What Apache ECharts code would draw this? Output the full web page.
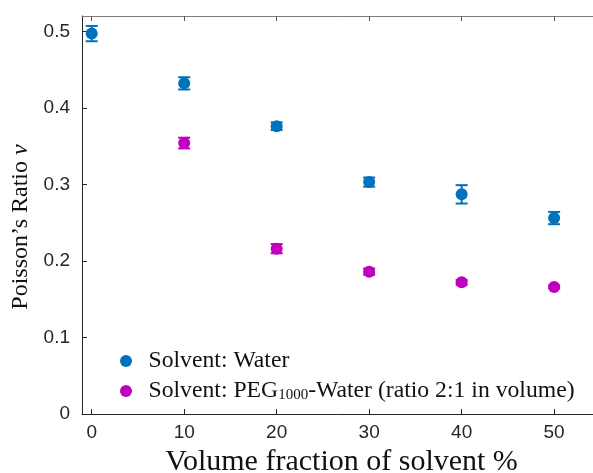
<!DOCTYPE html>
<html>
<head>
<meta charset="utf-8">
<script src="https://cdn.jsdelivr.net/npm/echarts@6/dist/echarts.min.js"></script>
<style>html,body{margin:0;padding:0;background:#fff;overflow:hidden;}#c{width:593px;height:473px;}</style>
</head>
<body>
<div id="c"></div>
<script>
// Data
const waterX = [0, 10, 20, 30, 40, 50];
const waterY = [0.497, 0.432, 0.376, 0.303, 0.287, 0.256];
const waterErr = [0.010, 0.008, 0.005, 0.006, 0.012, 0.008];
const pegX = [10, 20, 30, 40, 50];
const pegY = [0.354, 0.216, 0.186, 0.172, 0.166];
const pegErr = [0.007, 0.006, 0.004, 0.003, 0.002];
const xTicks = [0, 10, 20, 30, 40, 50];
const yTicks = [0, 0.1, 0.2, 0.3, 0.4, 0.5];
const waterName = 'Solvent: Water';
const pegName = 'Solvent: PEG{sub|1000}-Water (ratio 2:1 in volume)';

const BLUE = '#0072BD';
const MAG = '#BF00BF';
const AX = '#262626';
const SERIF = '"Liberation Serif", "DejaVu Serif", serif';
const SANS = '"Liberation Sans", Arial, sans-serif';
const X_MIN = -1.05, X_MAX = 54.42;

function zip(xs, ys, es) { return xs.map((x, i) => es ? [x, ys[i], es[i]] : [x, ys[i]]); }

function errBar(color) {
  return function (params, api) {
    const x = api.value(0), y = api.value(1), e = api.value(2);
    const lo = api.coord([x, y - e]);
    const hi = api.coord([x, y + e]);
    const w = 6;
    const st = { stroke: color, lineWidth: 2 };
    return {
      type: 'group',
      children: [
        { type: 'line', shape: { x1: lo[0], y1: lo[1], x2: hi[0], y2: hi[1] }, style: st },
        { type: 'line', shape: { x1: lo[0] - w, y1: lo[1], x2: lo[0] + w, y2: lo[1] }, style: st },
        { type: 'line', shape: { x1: hi[0] - w, y1: hi[1], x2: hi[0] + w, y2: hi[1] }, style: st }
      ]
    };
  };
}

const chart = echarts.init(document.getElementById('c'), null, { renderer: 'canvas' });
chart.setOption({
  animation: false,
  grid: { left: 82, right: -2, top: 16, bottom: 59, containLabel: false, outerBoundsMode: 'none' },
  legend: {
    left: 120, top: 349, orient: 'vertical', padding: 0,
    itemWidth: 35, itemHeight: 12, itemGap: 6,
    data: [{ name: waterName, icon: 'circle' }, { name: pegName, icon: 'circle' }],
    textStyle: {
      fontFamily: SERIF, fontSize: 23.7, color: '#111', lineHeight: 22,
      rich: { sub: { fontFamily: SERIF, fontSize: 15, lineHeight: 14, padding: [8, 0, 0, 0] } }
    }
  },
  xAxis: [{
    type: 'value', position: 'bottom', min: X_MIN, max: X_MAX,
    name: 'Volume fraction of solvent %', nameLocation: 'middle', nameGap: 29,
    nameTextStyle: { fontFamily: SERIF, fontSize: 30, color: '#111', padding: [0, 0, 0, 6] },
    axisLine: { show: true, onZero: false, lineStyle: { color: AX, width: 1 } },
    axisTick: { show: true, inside: true, length: 5, customValues: xTicks, lineStyle: { color: AX } },
    axisLabel: { customValues: xTicks, fontFamily: SANS, fontSize: 19, color: AX, margin: 9 },
    splitLine: { show: false }
  }, {
    type: 'value', position: 'top', min: X_MIN, max: X_MAX,
    axisLine: { show: true, onZero: false, lineStyle: { color: '#7a7a7a', width: 1 } },
    axisTick: { show: true, inside: true, length: 5, customValues: xTicks, lineStyle: { color: '#555' } },
    axisLabel: { show: false },
    splitLine: { show: false }
  }],
  yAxis: {
    type: 'value', min: 0, max: 0.52,
    name: 'Poisson\u2019s Ratio {i|\u03bd}{sp| }', nameLocation: 'middle', nameGap: 32,
    nameTextStyle: {
      fontFamily: SERIF, fontSize: 24, color: '#111',
      rich: {
        i: { fontFamily: SERIF, fontSize: 24, fontStyle: 'italic', color: '#111' },
        sp: { width: 24, fontSize: 24 }
      }
    },
    axisLine: { show: true, onZero: false, lineStyle: { color: AX, width: 1 } },
    axisTick: { show: true, inside: true, length: 5, customValues: yTicks, lineStyle: { color: AX } },
    axisLabel: { customValues: yTicks, fontFamily: SANS, fontSize: 19, color: AX, margin: 12,
      formatter: v => (v === 0 ? '0' : String(Math.round(v * 10) / 10)) },
    splitLine: { show: false }
  },
  series: [
    { type: 'custom', name: 'waterErr', xAxisIndex: 0, renderItem: errBar(BLUE), data: zip(waterX, waterY, waterErr), z: 2, silent: true },
    { type: 'custom', name: 'pegErr', xAxisIndex: 0, renderItem: errBar(MAG), data: zip(pegX, pegY, pegErr), z: 2, silent: true },
    { type: 'scatter', name: waterName, xAxisIndex: 0, symbol: 'circle', symbolSize: 12, itemStyle: { color: BLUE, opacity: 1 }, data: zip(waterX, waterY), z: 3 },
    { type: 'scatter', name: pegName, xAxisIndex: 0, symbol: 'circle', symbolSize: 12, itemStyle: { color: MAG, opacity: 1 }, data: zip(pegX, pegY), z: 3 }
  ]
});
</script>
</body>
</html>
